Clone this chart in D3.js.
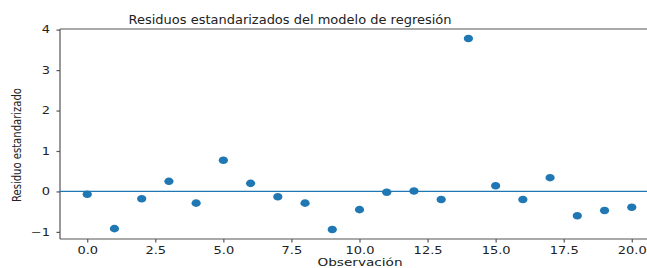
<!DOCTYPE html>
<html>
<head>
<meta charset="utf-8">
<script src="https://cdn.jsdelivr.net/npm/d3@7"></script>
<style>
  body { margin: 0; background: #fff; }
  svg text { font-family: "DejaVu Sans", sans-serif; fill: #222; }
  .axis path, .axis line { stroke: #555; stroke-width: 1.2; }
  .axis text { font-size: 10px; fill: #222; }
</style>
</head>
<body>
<svg id="chart" width="647" height="268"></svg>
<script>
// observation index and standardized residuals
const observaciones = d3.range(0, 21);
const residuos = [-0.07, -0.92, -0.18, 0.25, -0.29, 0.77, 0.20, -0.13, -0.29, -0.94,
                  -0.45, -0.02, 0.01, -0.20, 3.78, 0.14, -0.20, 0.34, -0.60, -0.47, -0.39];
const xTicks = [0, 2.5, 5, 7.5, 10, 12.5, 15, 17.5, 20];
const yTicks = [-1, 0, 1, 2, 3, 4];
const titulo = "Residuos estandarizados del modelo de regresión";
const xLabel = "Observación";
const yLabel = "Residuo estandarizado";

const svg = d3.select("#chart");
const mLeft = 60, mRight = 659, mTop = 29, mBottom = 239;
const stretch = 1.3; // the picture is wider than tall in its text

let xScale = d3.scaleLinear().domain([-1, 21]).range([mLeft, mRight]);
let yScale = d3.scaleLinear().domain([-1.176, 4.016]).range([mBottom, mTop]);

// spines
svg.append("line").attr("x1", mLeft).attr("x2", mRight).attr("y1", mTop).attr("y2", mTop)
   .attr("stroke", "#555").attr("stroke-width", 1.2);
svg.append("line").attr("x1", mRight).attr("x2", mRight).attr("y1", mTop).attr("y2", mBottom)
   .attr("stroke", "#555").attr("stroke-width", 1.2);

// axes
let x_axis = d3.axisBottom(xScale).tickValues(xTicks).tickFormat(d3.format(".1f")).tickSize(3.5).tickPadding(4.5);
let y_axis = d3.axisLeft(yScale).tickValues(yTicks).tickFormat(d => d < 0 ? "\u2212" + Math.abs(d) : d).tickSize(3.5).tickPadding(4);

svg.append("g").attr("class", "axis")
   .attr("transform", `translate(0,${mBottom})`)
   .call(x_axis)
   .call(g => g.select(".domain").attr("d", `M${mLeft},0H${mRight}`))
   .call(g => g.selectAll(".tick text").attr("transform", `scale(${stretch},1)`));

svg.append("g").attr("class", "axis")
   .attr("transform", `translate(${mLeft},0)`)
   .call(y_axis)
   .call(g => g.select(".domain").attr("d", `M0,${mTop}V${mBottom}`))
   .call(g => g.selectAll(".tick text").attr("x", 0)
      .attr("transform", `translate(-10,0) scale(${stretch},1)`));

// zero line
svg.append("line")
   .attr("x1", mLeft).attr("x2", mRight)
   .attr("y1", yScale(0)).attr("y2", yScale(0))
   .attr("stroke", "#1f77b4").attr("stroke-width", 1.3);

// points
svg.selectAll(".pt")
   .data(residuos)
   .enter()
   .append("ellipse")
   .attr("class", "pt")
   .attr("cx", (d, i) => xScale(observaciones[i]))
   .attr("cy", d => yScale(d))
   .attr("rx", 4.6)
   .attr("ry", 3.8)
   .attr("fill", "#1f77b4");

// labels
svg.append("text")
   .attr("x", 290).attr("y", 23.5)
   .attr("text-anchor", "middle")
   .style("font-size", "13px")
   .attr("textLength", 323).attr("lengthAdjust", "spacingAndGlyphs")
   .text(titulo);

svg.append("text")
   .attr("transform", `translate(360,266) scale(${stretch},1)`)
   .attr("text-anchor", "middle")
   .style("font-size", "10.5px")
   .text(xLabel);

svg.append("text")
   .attr("transform", `translate(21,145) scale(${stretch},1) rotate(-90)`)
   .attr("text-anchor", "middle")
   .style("font-size", "10px")
   .attr("textLength", 114).attr("lengthAdjust", "spacingAndGlyphs")
   .text(yLabel);
</script>
</body>
</html>
